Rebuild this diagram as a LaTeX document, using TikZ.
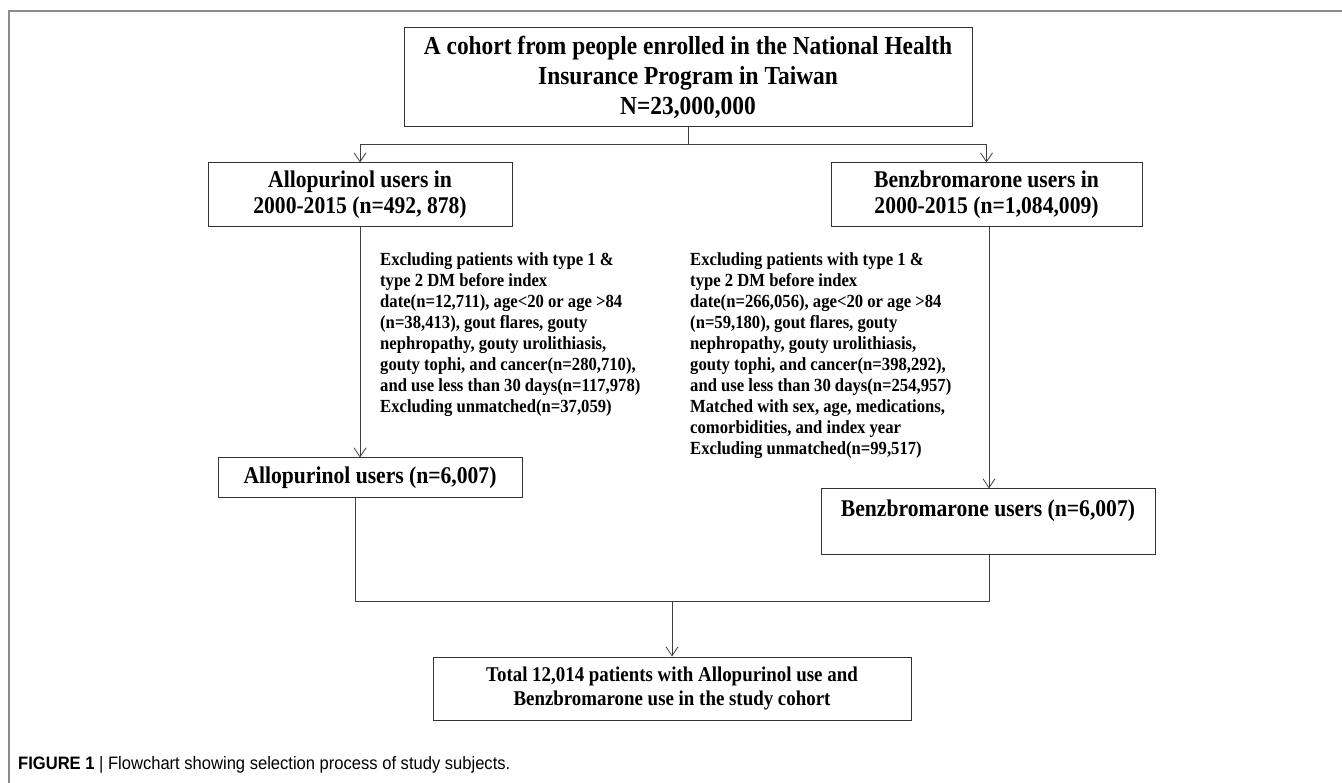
\documentclass[tikz,border=0pt]{standalone}
\usepackage{fontspec}
\setmainfont{Liberation Serif}[FakeStretch=0.9]
\setsansfont{Liberation Sans}[FakeStretch=0.92]
\usetikzlibrary{arrows.meta, positioning}

\begin{document}
\begin{tikzpicture}[
    x=1pt, y=-1pt,
    box/.style={rectangle, draw=black!80, line width=1pt, inner sep=0pt, align=center},
    note/.style={inner sep=0pt, anchor=west, align=left, font=\bfseries\fontsize{18.5}{21}\selectfont},
    conn/.style={line width=0.8pt, black!75},
    arr/.style={conn, -{Straight Barb[length=9pt, width=12pt]}}
  ]
  \useasboundingbox (0,0) rectangle (1342,783);
  % frame
  \draw[black!45, line width=1.5pt] (9,783) -- (9,11) -- (1342,11);

  \node[box, minimum width=568pt, minimum height=99pt, font=\bfseries\fontsize{26}{30}\selectfont] (cohort) at (688,77.5)
    {A cohort from people enrolled in the National Health\\Insurance Program in Taiwan\\N=23,000,000};
  \node[box, minimum width=304pt, minimum height=64pt, font=\bfseries\fontsize{24}{26}\selectfont] (allo) at (360,195)
    {Allopurinol users in\\2000-2015 (n=492, 878)};
  \node[box, minimum width=311pt, minimum height=64pt, font=\bfseries\fontsize{24}{26}\selectfont, right=318pt of allo] (benz)
    {Benzbromarone users in\\2000-2015 (n=1,084,009)};

  \node[note] (alloexcl) at (380,334.5)
    {Excluding patients with type 1 \&\\type 2 DM before index\\date(n=12,711), age<20 or age >84\\(n=38,413), gout flares, gouty\\nephropathy, gouty urolithiasis,\\gouty tophi, and cancer(n=280,710),\\and use less than 30 days(n=117,978)\\Excluding unmatched(n=37,059)};
  \node[note] (benzexcl) at (690,355.5)
    {Excluding patients with type 1 \&\\type 2 DM before index\\date(n=266,056), age<20 or age >84\\(n=59,180), gout flares, gouty\\nephropathy, gouty urolithiasis,\\gouty tophi, and cancer(n=398,292),\\and use less than 30 days(n=254,957)\\Matched with sex, age, medications,\\comorbidities, and index year\\Excluding unmatched(n=99,517)};

  \node[box, minimum width=304pt, minimum height=39pt, font=\bfseries\fontsize{24}{26}\selectfont] (allofin) at (370,477.5)
    {Allopurinol users (n=6,007)};
  \node[box, minimum width=334pt, minimum height=65pt, font=\bfseries\fontsize{24}{26}\selectfont] (benzfin) at (988,521.5)
    {Benzbromarone users (n=6,007)\\\mbox{}};
  \node[box, minimum width=478pt, minimum height=63pt, font=\bfseries\fontsize{21}{24}\selectfont] (total) at (672,688.5)
    {Total 12,014 patients with Allopurinol use and\\Benzbromarone use in the study cohort};

  \node[inner sep=0pt, anchor=west, font=\sffamily\fontsize{18}{21}\selectfont] (caption) at (18,765)
    {\textbf{FIGURE 1} | Flowchart showing selection process of study subjects.};

  % connectors
  \draw[conn] (cohort.south) -- ++(0,17) coordinate (split);
  \draw[arr] (split) -| (allo.north);
  \draw[arr] (split) -| (benz.north);
  \draw[arr] (allo.south) -- (allo.south |- allofin.north);
  \draw[arr] ([xshift=2.5pt]benz.south) -- ([xshift=2.5pt]benz.south |- benzfin.north);
  \coordinate (join) at (672,601);
  \draw[conn] ([xshift=-15pt]allofin.south) |- (join);
  \draw[conn] ([xshift=1pt]benzfin.south) |- (join);
  \draw[arr] (join) -- (total.north);
\end{tikzpicture}
\end{document}
